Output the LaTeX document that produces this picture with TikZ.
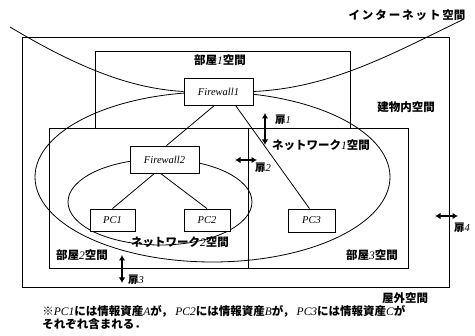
\documentclass[tikz,border=0pt]{standalone}
\usepackage{fontspec}
\setmainfont{Liberation Serif}
\newfontfamily\jp{Noto Sans CJK JP}
\usetikzlibrary{arrows.meta}
\newcommand{\eni}[1]{{\rmfamily\mdseries\itshape #1}}

\begin{document}
\begin{tikzpicture}[x=1pt,y=-1pt,line width=0.8pt,
        box/.style={draw,fill=white,inner sep=0pt,font=\itshape\fontsize{10.5}{12}\selectfont},
        lbl/.style={font=\jp\bfseries\fontsize{11.5}{13}\selectfont,inner sep=0pt},
        door/.style={{Latex[length=5.5pt,width=6.5pt]}-{Latex[length=5.5pt,width=6.5pt]},line width=1.4pt},
        dlbl/.style={font=\jp\bfseries\fontsize{10.5}{12}\selectfont,inner sep=0pt}]
                \useasboundingbox (0,0) rectangle (475,336);
                % rooms and building
                \draw (22,37) rectangle (449,287);
                \draw (95,51) rectangle (350,128);
                \draw (49,128) rectangle (248,268);
                \draw (248,128) rectangle (408,268);
                % network spaces
                \draw (212.5,177) ellipse [x radius=177.5pt, y radius=85pt];
                \draw (160,202) ellipse [x radius=92pt, y radius=43pt];
                % devices
                \node[box,minimum width=69pt,minimum height=27pt] (Firewall1) at (218.5,91.5) {Firewall1};
                \node[box,minimum width=69pt,minimum height=27pt] (Firewall2) at (164.5,159.5) {Firewall2};
                \node[box,minimum width=45pt,minimum height=22pt] (PC1) at (112.5,220) {PC1};
                \node[box,minimum width=46pt,minimum height=22pt] (PC2) at (207,220) {PC2};
                \node[box,minimum width=47pt,minimum height=23pt] (PC3) at (311.5,220.5) {PC3};
                \draw ([xshift=-4pt]Firewall1.south)--([xshift=2pt]Firewall2.north);
                \draw ([xshift=17pt]Firewall1.south)--([xshift=-2pt]PC3.north);
                \draw ([xshift=-10pt]Firewall2.south)--(PC1.north);
                \draw ([xshift=-4pt]Firewall2.south)--(PC2.north);
                % internet boundary
                \coordinate (netL) at (10,27);
                \coordinate (netR) at (462,20);
                \draw (netL) .. controls (90,75) and (140,89) .. (Firewall1.west);
                \draw (Firewall1.east) .. controls (330,88) and (390,55) .. (netR);
                % space labels
                \node[lbl] (inet) at (407,15) {イ\,ン\,タ\,ー\,ネ\,ッ\,ト\,空間};
                \node[lbl] (room1) at (220,60) {部屋\eni{1}空間};
                \node[lbl] (bldg) at (406,107) {建物内空間};
                \node[lbl] (net1) at (321,145) {ネットワーク\eni{1}空間};
                \node[lbl] (net2) at (180,242) {ネットワーク\eni{2}空間};
                \node[lbl] (room2) at (82,255) {部屋\eni{2}空間};
                \node[lbl] (room3) at (372,255) {部屋\eni{3}空間};
                \node[lbl] (outside) at (405,298) {屋外空間};
                % doors
                \coordinate (d1a) at (265,113);
                \coordinate (d1b) at (265,145);
                \coordinate (d2a) at (235,160);
                \coordinate (d2b) at (257,160);
                \coordinate (d3a) at (122,255);
                \coordinate (d3b) at (122,283);
                \coordinate (d4a) at (435,216);
                \coordinate (d4b) at (458,216);
                \draw[door] (d1a)--(d1b);
                \draw[door] (d2a)--(d2b);
                \draw[door] (d3a)--(d3b);
                \draw[door] (d4a)--(d4b);
                \node[dlbl] (door1) at (283,120) {扉\eni{1}};
                \node[dlbl] (door2) at (263,168) {扉\eni{2}};
                \node[dlbl] (door3) at (136,280) {扉\eni{3}};
                \node[dlbl] (door4) at (462,228) {扉\eni{4}};
                % note
                \node[lbl,anchor=north west,align=left] (note) at (42,305) {※\eni{PC1}には情報資産\eni{A}が，\ \eni{PC2}には情報資産\eni{B}が，\ \eni{PC3}には情報資産\eni{C}が\\それぞれ含まれる．};
\end{tikzpicture}
\end{document}
